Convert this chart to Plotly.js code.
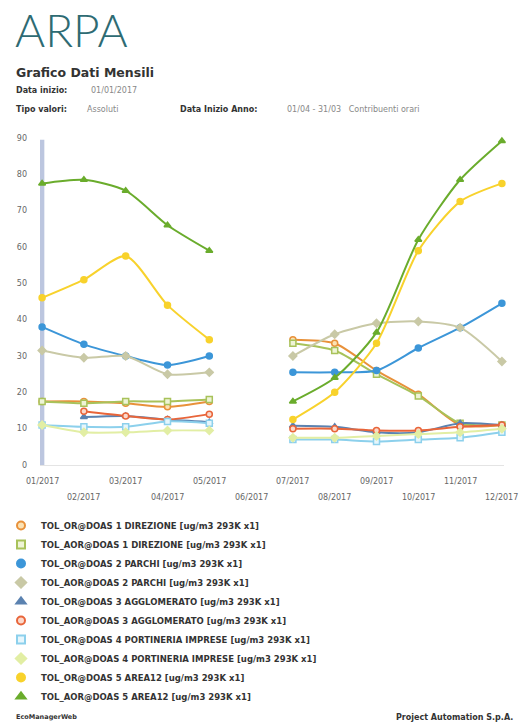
<!DOCTYPE html>
<html>
<head>
<meta charset="utf-8">
<script src="https://cdn.plot.ly/plotly-3.0.1.min.js"></script>
<style>
html,body{margin:0;padding:0;background:#fff;}
#chart{width:525px;height:725px;}
</style>
</head>
<body>
<div id="chart"></div>
<script>
// ---- data ----
const months = ['01/2017','02/2017','03/2017','04/2017','05/2017','06/2017','07/2017','08/2017','09/2017','10/2017','11/2017','12/2017'];
const yTicks = [0,10,20,30,40,50,60,70,80,90];

const seriesNames = [
  'TOL_OR@DOAS 1 DIREZIONE [ug/m3 293K x1]',
  'TOL_AOR@DOAS 1 DIREZIONE [ug/m3 293K x1]',
  'TOL_OR@DOAS 2 PARCHI [ug/m3 293K x1]',
  'TOL_AOR@DOAS 2 PARCHI [ug/m3 293K x1]',
  'TOL_OR@DOAS 3 AGGLOMERATO [ug/m3 293K x1]',
  'TOL_AOR@DOAS 3 AGGLOMERATO [ug/m3 293K x1]',
  'TOL_OR@DOAS 4 PORTINERIA IMPRESE [ug/m3 293K x1]',
  'TOL_AOR@DOAS 4 PORTINERIA IMPRESE [ug/m3 293K x1]',
  'TOL_OR@DOAS 5 AREA12 [ug/m3 293K x1]',
  'TOL_AOR@DOAS 5 AREA12 [ug/m3 293K x1]'
];

const or1  = [17.5, 17.5, 17,   16,   17.5, null, 34.5, 33.5, 26,   19.5, 11,   11];
const aor1 = [17.5, 17,   17.5, 17.5, 18,   null, 33.5, 31.5, 25,   19,   11.5, 11];
const or2  = [38,   33.2, 30,   27.5, 30,   null, 25.5, 25.5, 26,   32.2, 37.8, 44.5];
const aor2 = [31.5, 29.5, 30,   25,   25.5, null, 30,   36,   39,   39.5, 37.8, 28.5];
const or3  = [null, 13.2, 13.5, 12.5, 11.8, null, 10.8, 10.5, 9,    9,    11.5, 11];
const aor3 = [null, 14.8, 13.5, 12.5, 14,   null, 10,   10,   9.5,  9.5,  10.5, 11];
const or4  = [11,   10.5, 10.5, 12,   11.5, null, 7,    7,    6.5,  7,    7.5,  9];
const aor4 = [11,   9,    9,    9.5,  9.5,  null, 7.5,  7.5,  8,    8.5,  9,    10];
const or5  = [46,   51,   57.5, 44,   34.5, null, 12.5, 20,   33.5, 59,   72.5, 77.5];
const aor5 = [77.5, 78.5, 75.5, 66,   59,   null, 17.5, 24,   36.5, 62,   78.5, 89.2];

const seriesValues = [or1, aor1, or2, aor2, or3, aor3, or4, aor4, or5, aor5];

// ---- styles ----
const styles = [
  {color:'#e8913a', symbol:'circle',      fill:'#fbe2b4'},
  {color:'#a8c25a', symbol:'square',      fill:'#eef4d6'},
  {color:'#3c96d8', symbol:'circle',      fill:'#3c96d8'},
  {color:'#c9c9a6', symbol:'diamond',     fill:'#c9c9a6'},
  {color:'#5b82b0', symbol:'triangle-up', fill:'#5b82b0'},
  {color:'#e8653a', symbol:'circle',      fill:'#fbd9cc'},
  {color:'#8cd0ec', symbol:'square',      fill:'#e6f6fc'},
  {color:'#e2eea4', symbol:'diamond',     fill:'#e2eea4'},
  {color:'#f8d22c', symbol:'circle',      fill:'#f8d22c'},
  {color:'#6aac2c', symbol:'triangle-up', fill:'#6aac2c'}
];

const traces = [];
seriesValues.forEach((vals, i) => {
  const s = styles[i];
  traces.push({
    type:'scatter', mode:'lines+markers', x: months, y: vals,
    name: seriesNames[i], showlegend:false, connectgaps:false,
    line:{color:s.color, width:2, shape:'spline', smoothing:0.7},
    marker:{symbol:s.symbol, size:6, color:s.fill, line:{color:s.color, width:1.5}},
    cliponaxis:false, hoverinfo:'skip'
  });
});
// legend entries (marker only)
seriesValues.forEach((vals, i) => {
  const s = styles[i];
  traces.push({
    type:'scatter', mode:'markers', x:[null], y:[null],
    name: seriesNames[i], showlegend:true,
    marker:{symbol:s.symbol, size:8, color:s.fill, line:{color:s.color, width:2}},
    hoverinfo:'skip'
  });
});

const L = 40, R = 21, T = 138, B = 260, W = 525, H = 725;
const plotW = W - L - R, plotH = H - T - B;
const px = x => (x - L) / plotW;
const py = y => (H - B - y) / plotH;

const fam = 'DejaVu Sans, Verdana, sans-serif';
const ann = (x, y, text, opts) => Object.assign({
  xref:'paper', yref:'paper', x:px(x), y:py(y), text:text, showarrow:false,
  xanchor:'left', yanchor:'middle', font:{family:fam, size:8, color:'#444'}
}, opts || {});

const annotations = [
  ann(13, 29, 'ARPA', {font:{family:'Lato, sans-serif', size:46, color:'#2e6b73', weight:300}}),
  ann(14, 72, '<b>Grafico Dati Mensili</b>', {font:{family:fam, size:12.5, color:'#333'}}),
  ann(14, 91, '<b>Data inizio:</b>', {font:{family:fam, size:8, color:'#333'}}),
  ann(89, 91, '01/01/2017', {font:{family:fam, size:8, color:'#888'}}),
  ann(14, 110, '<b>Tipo valori:</b>', {font:{family:fam, size:8, color:'#333'}}),
  ann(85, 110, 'Assoluti', {font:{family:fam, size:8, color:'#888'}}),
  ann(178, 110, '<b>Data Inizio Anno:</b>', {font:{family:fam, size:8, color:'#333'}}),
  ann(285, 110, '01/04 - 31/03   Contribuenti orari', {font:{family:fam, size:8, color:'#888'}}),
  ann(14, 717, '<b>EcoManagerWeb</b>', {font:{family:fam, size:6.5, color:'#333'}}),
  ann(515, 717, '<b>Project Automation S.p.A.</b>', {xanchor:'right', font:{family:fam, size:8, color:'#333'}})
];
// month labels in two staggered rows
months.forEach((m, i) => {
  annotations.push({
    xref:'x', yref:'paper', x:m, y:py(i % 2 === 0 ? 481 : 497), text:m, showarrow:false,
    xanchor:'center', yanchor:'middle', font:{family:fam, size:8, color:'#666'}
  });
});

const layout = {
  width: W, height: H,
  margin:{l:L, r:R, t:T, b:B, pad:0, autoexpand:false},
  paper_bgcolor:'#fff', plot_bgcolor:'#fff',
  showlegend:true,
  legend:{
    xref:'container', yref:'container', x:1/W, y:1 - 511/H, xanchor:'left', yanchor:'top',
    orientation:'v', traceorder:'normal',
    font:{family:fam, size:8.5, color:'#333', weight:'bold'},
    bgcolor:'rgba(0,0,0,0)', itemwidth:30
  },
  xaxis:{
    type:'category', range:[-0.05, 11.05],
    tickvals: months, showticklabels:false,
    showgrid:false, zeroline:false,
    showline:true, linecolor:'#e4e4e4', linewidth:1,
    ticks:'', ticklen:0, fixedrange:true
  },
  yaxis:{
    range:[0, 90], tickvals:yTicks, ticktext:yTicks.map(String),
    tickfont:{family:fam, size:8, color:'#666'}, ticklabelstandoff:12,
    showgrid:false, zeroline:false, showline:false, ticks:'',
    fixedrange:true
  },
  shapes:[{
    type:'line', xref:'x', yref:'paper', x0:-0.03, x1:-0.03, y0:0, y1:0.995,
    line:{color:'#bcc6df', width:7}, layer:'below'
  }],
  annotations: annotations
};

Plotly.newPlot('chart', traces, layout, {staticPlot:true, displayModeBar:false});
</script>
</body>
</html>
